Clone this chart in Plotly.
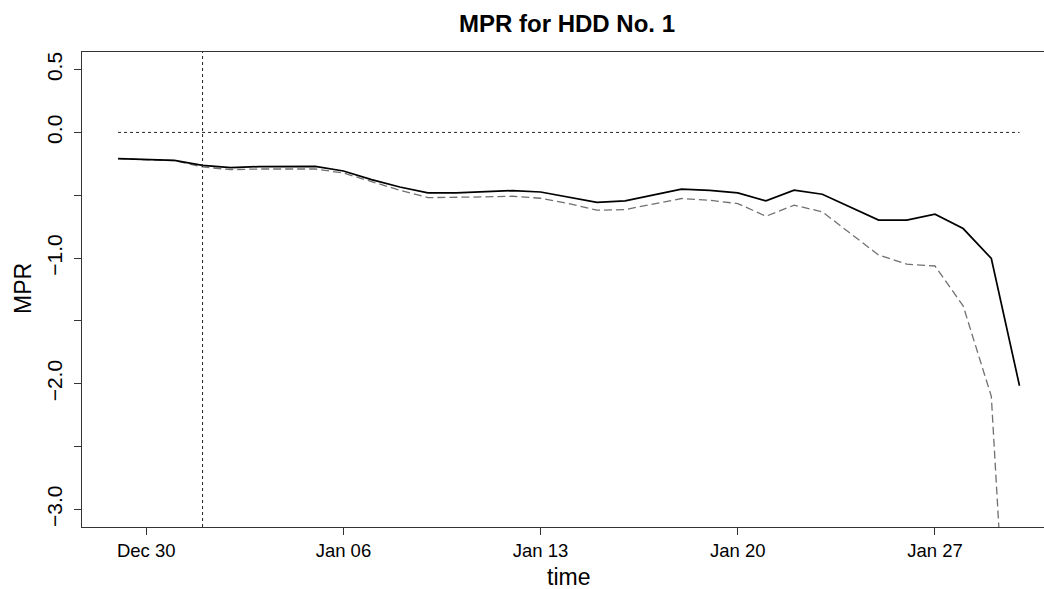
import plotly.graph_objects as go
import pandas as pd

# Daily observations, 29 Dec through 30 Jan
dates = pd.date_range("2013-12-29", periods=33, freq="D")

# MPR estimates (solid) and alternative estimate (dashed)
mpr_solid = [-0.209, -0.217, -0.222, -0.262, -0.280, -0.272, -0.272, -0.270,
             -0.307, -0.376, -0.434, -0.481, -0.481, -0.471, -0.463, -0.474,
             -0.513, -0.556, -0.545, -0.500, -0.452, -0.461, -0.481, -0.545,
             -0.460, -0.492, -0.593, -0.698, -0.698, -0.651, -0.765, -1.003,
             -2.016]
mpr_dashed = [-0.209, -0.217, -0.225, -0.275, -0.296, -0.291, -0.291, -0.291,
              -0.323, -0.394, -0.460, -0.519, -0.519, -0.513, -0.508, -0.524,
              -0.566, -0.619, -0.614, -0.571, -0.526, -0.540, -0.566, -0.667,
              -0.579, -0.632, -0.804, -0.976, -1.048, -1.063, -1.380, -2.100,
              -6.000]

x_ticks = ["2013-12-30", "2014-01-06", "2014-01-13", "2014-01-20", "2014-01-27"]
y_ticks = [-3.0, -2.5, -2.0, -1.5, -1.0, -0.5, 0.0, 0.5]
y_tick_text = ["\u22123.0", "", "\u22122.0", "", "\u22121.0", "", "0.0", "0.5"]
marker_date = "2014-01-01"

font_family = "Liberation Sans, Arial, Helvetica, sans-serif"

fig = go.Figure()

# reference line at zero
fig.add_trace(go.Scatter(
    x=[dates[0], dates[-1]], y=[0, 0], mode="lines",
    line=dict(color="#222222", width=1, dash="3px,3px"),
    hoverinfo="skip", showlegend=False))

fig.add_trace(go.Scatter(
    x=dates, y=mpr_dashed, mode="lines",
    line=dict(color="#707070", width=1.3, dash="8px,4px"),
    showlegend=False))

fig.add_trace(go.Scatter(
    x=dates, y=mpr_solid, mode="lines",
    line=dict(color="#000000", width=1.7),
    showlegend=False))

fig.add_shape(type="line", xref="x", yref="paper",
              x0=marker_date, x1=marker_date, y0=0, y1=1,
              line=dict(color="#222222", width=1, dash="3px,3px"))

x_start = dates[0] - pd.Timedelta(hours=1.28 * 24)
x_end = dates[0] + pd.Timedelta(hours=32.87 * 24)

fig.update_layout(
    width=1044, height=589,
    margin=dict(l=82, r=0, t=52, b=62),
    paper_bgcolor="white", plot_bgcolor="white",
    font=dict(family=font_family, color="black"),
    title=dict(text="<b>MPR for HDD No. 1</b>", xref="container", yref="container",
               x=567 / 1044, y=1 - 23.5 / 589, xanchor="center", yanchor="middle",
               font=dict(size=24, family=font_family, color="black")),
    xaxis=dict(
        range=[x_start, x_end], showgrid=False, zeroline=False,
        showline=True, linecolor="#333333", linewidth=1, mirror=True,
        ticks="outside", ticklen=7, tickcolor="#333333",
        tickvals=x_ticks, tickformat="%b %d",
        tickfont=dict(size=18.5, family=font_family, color="black")),
    yaxis=dict(
        range=[-3.14, 0.64], showgrid=False, zeroline=False,
        showline=True, linecolor="#333333", linewidth=1, mirror=False,
        ticks="outside", ticklen=7, tickcolor="#333333",
        tickvals=y_ticks, ticktext=y_tick_text, tickangle=-90,
        ticklabelstandoff=4,
        tickfont=dict(size=21, family=font_family, color="black")),
    annotations=[
        dict(text="time", xref="paper", yref="paper",
             x=(568 - 82) / 962, y=-(577 - 527) / 475,
             xanchor="center", yanchor="middle", showarrow=False,
             font=dict(size=23, family=font_family, color="black")),
        dict(text="MPR", xref="paper", yref="paper",
             x=-(82 - 23) / 962, y=0.501, textangle=-90,
             xanchor="center", yanchor="middle", showarrow=False,
             font=dict(size=23, family=font_family, color="black")),
    ],
)

fig.write_html("out.html")
